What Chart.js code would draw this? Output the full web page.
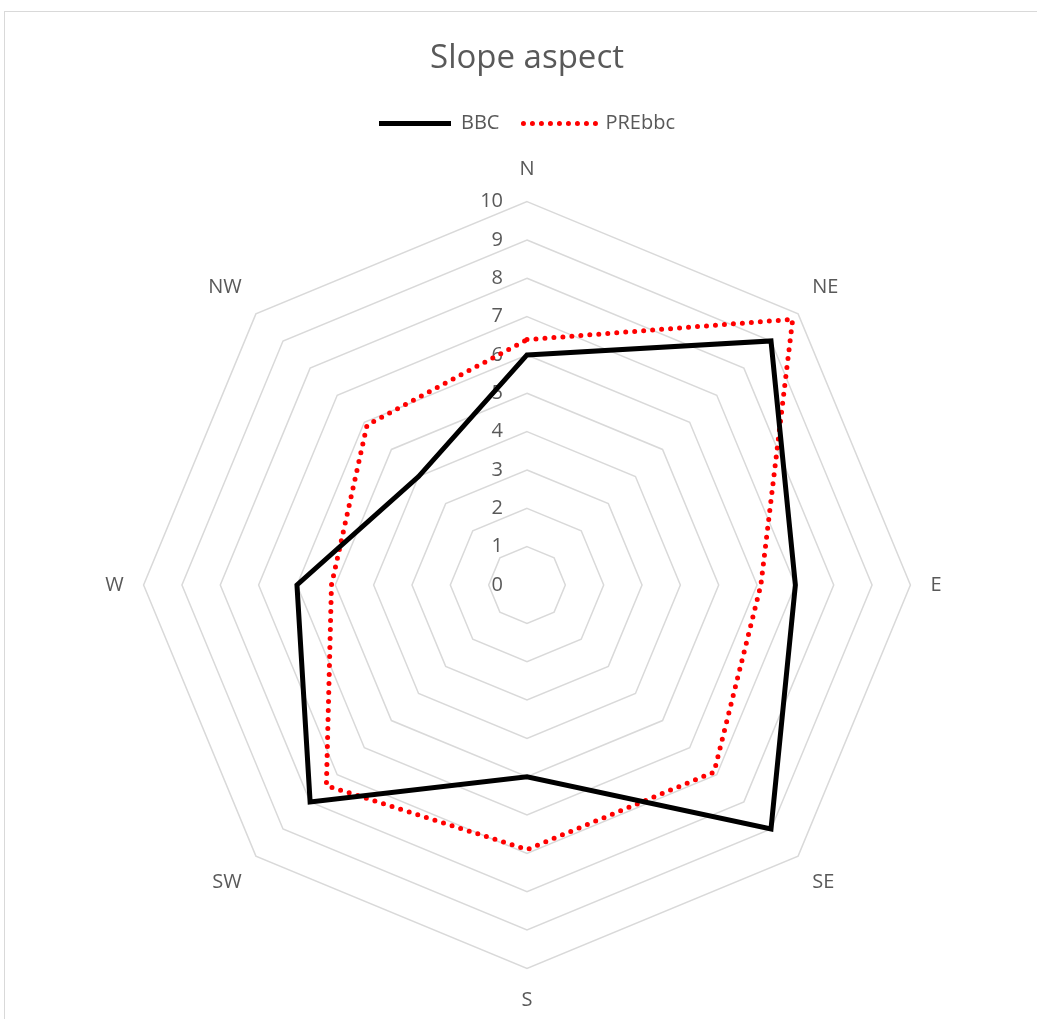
<!DOCTYPE html>
<html>
<head>
<meta charset="utf-8">
<script src="https://cdn.jsdelivr.net/npm/chart.js@4/dist/chart.umd.min.js"></script>
<style>
  html, body { margin: 0; padding: 0; background: #fff; }
  #frame { position: absolute; left: 4px; top: 11px; width: 1100px; height: 1100px; border: 1px solid #d9d9d9; }
  #wrap { position: absolute; left: 0; top: 0; width: 1037px; height: 1019px; }
</style>
</head>
<body>
<div id="frame"></div>
<div id="wrap"><canvas id="radar"></canvas></div>
<script>
const directions = ['N', 'NE', 'E', 'SE', 'S', 'SW', 'W', 'NW'];
const bbc = [6, 9, 7, 9, 5, 8, 6, 4];
const prebbc = [6.4, 9.8, 6.1, 6.9, 6.9, 7.4, 5.1, 5.9];
const tickValues = [0, 1, 2, 3, 4, 5, 6, 7, 8, 9, 10];

const textColor = '#595959';
const fontFamily = '"Open Sans", sans-serif';

// tick labels sit left of the vertical axis like in Excel
const leftTicks = {
    id: 'leftTicks',
    beforeDatasetsDraw(chart) {
        const scale = chart.scales.r;
        const ctx = chart.ctx;
        ctx.save();
        ctx.font = '20px ' + fontFamily;
        ctx.fillStyle = textColor;
        ctx.textAlign = 'right';
        ctx.textBaseline = 'middle';
        tickValues.forEach(function(v) {
            const y = scale.yCenter - scale.getDistanceFromCenterForValue(v);
            ctx.fillText(String(v), scale.xCenter - 24, y);
        });
        ctx.restore();
    }
};

// a bit more room below the legend
const legendGap = {
    id: 'legendGap',
    beforeInit(chart) {
        const fit = chart.legend.fit;
        chart.legend.fit = function() {
            fit.bind(chart.legend)();
            this.height += 14;
        };
    }
};

const ctx = document.getElementById('radar').getContext('2d');
new Chart(ctx, {
    type: 'radar',
    data: {
        labels: directions,
        datasets: [
            {
                label: 'BBC',
                data: bbc,
                borderColor: '#000000',
                backgroundColor: 'transparent',
                borderWidth: 5,
                borderCapStyle: 'butt',
                borderJoinStyle: 'miter',
                fill: false,
                pointRadius: 0,
                pointHoverRadius: 0
            },
            {
                label: 'PREbbc',
                data: prebbc,
                borderColor: '#ff0000',
                backgroundColor: 'transparent',
                borderWidth: 5,
                borderDash: [0, 9],
                borderCapStyle: 'round',
                fill: false,
                pointRadius: 0,
                pointHoverRadius: 0
            }
        ]
    },
    options: {
        responsive: true,
        maintainAspectRatio: false,
        animation: false,
        layout: { padding: { left: 17, right: 0, top: 10, bottom: 5 } },
        plugins: {
            title: {
                display: true,
                text: 'Slope aspect',
                color: textColor,
                font: { family: fontFamily, size: 33, weight: 'normal' },
                padding: { top: 29, bottom: 11 }
            },
            legend: {
                position: 'top',
                labels: {
                    color: textColor,
                    font: { family: fontFamily, size: 20 },
                    boxWidth: 72,
                    boxHeight: 0,
                    padding: 24
                }
            },
            tooltip: { enabled: false }
        },
        scales: {
            r: {
                min: 0,
                max: 10,
                ticks: { display: false, stepSize: 1 },
                grid: { color: '#d9d9d9', lineWidth: 1.5 },
                angleLines: { display: false },
                pointLabels: {
                    color: textColor,
                    font: { family: fontFamily, size: 20 },
                    padding: 20
                }
            }
        }
    },
    plugins: [leftTicks, legendGap]
});
</script>
</body>
</html>
